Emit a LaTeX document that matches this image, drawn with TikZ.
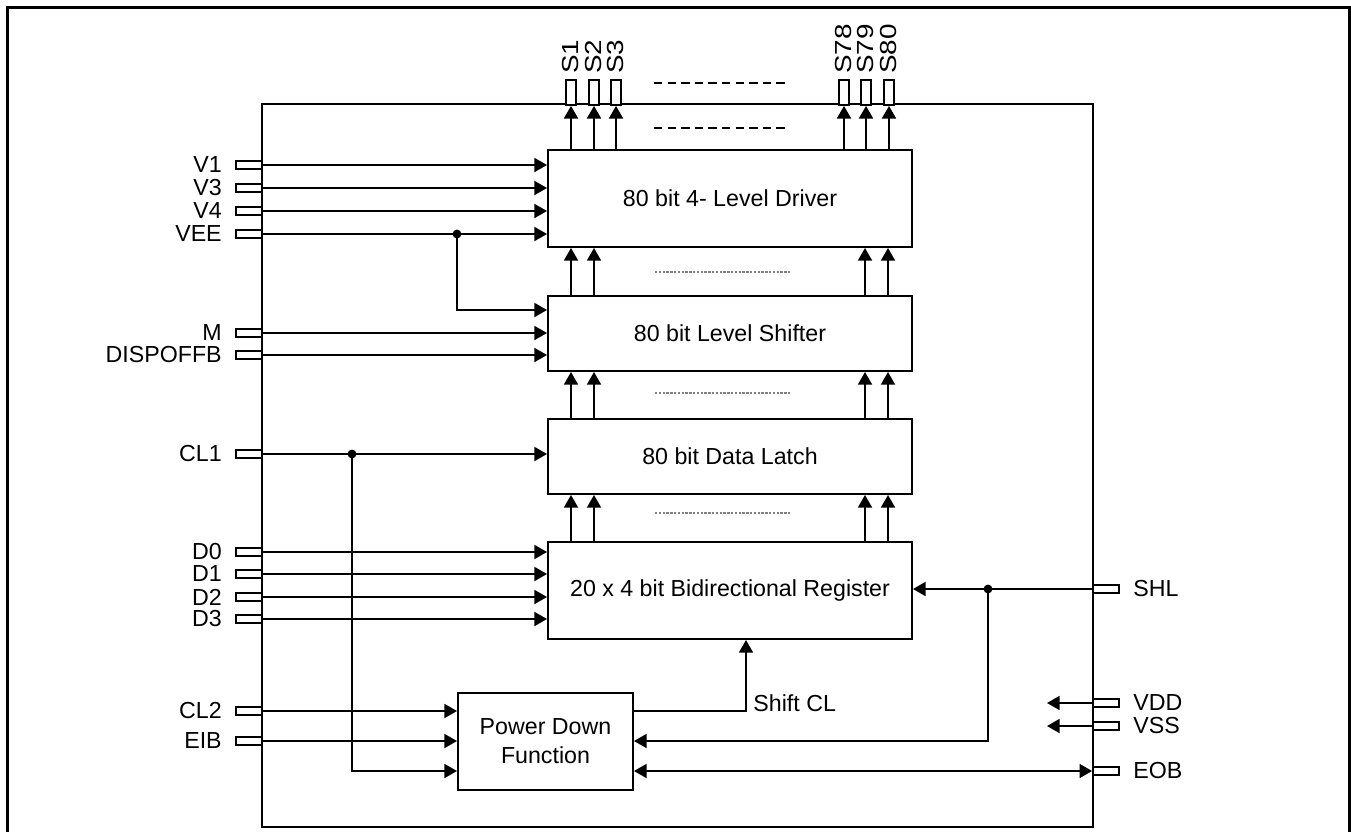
\documentclass[tikz,border=0pt]{standalone}
\usepackage{fontspec}
\setmainfont{Liberation Sans}
\usetikzlibrary{arrows.meta,positioning}
\newcommand{\sigfont}{\fontsize{11.6}{14.5}\selectfont}
\tikzset{
  block/.style={rectangle, draw=black, line width=1pt, fill=white, align=center,
    inner sep=0pt, minimum width=182pt, font=\sigfont},
  pinL/.style={rectangle, draw=black, line width=0.9pt, fill=white, inner sep=0pt,
    minimum width=13pt, minimum height=4.2pt},
  pinT/.style={rectangle, draw=black, line width=0.9pt, fill=white, inner sep=0pt,
    minimum width=5pt, minimum height=12.5pt},
  pintxt/.style={font=\sigfont, inner sep=0pt},
  flow/.style={-{Triangle[length=6.3pt,width=7pt]}, line width=0.9pt},
  flowboth/.style={{Triangle[length=6.3pt,width=7pt]}-{Triangle[length=6.3pt,width=7pt]}, line width=0.9pt},
  gapline/.style={dash pattern=on 4.2pt off 2.6pt, line width=0.9pt},
  fine/.style={draw=black!50, dash pattern=on 1.2pt off 0.7pt, line width=0.6pt},
}
\begin{document}
\begin{tikzpicture}[x=0.5pt, y=-0.5pt, font=\sigfont, node distance=23pt]
  \useasboundingbox (0,0) rectangle (1351,831);
  % frame and chip outline
  \draw[line width=1.5pt] (7,836) -- (7,7) -- (1349.5,7) -- (1349.5,836);
  \node[draw, line width=1pt, inner sep=0pt, minimum width=415.5pt, minimum height=361.5pt] (chip) at (677.5,465.5) {};

  % blocks
  \node[block, minimum height=48.5pt] (drv) at (730,198.5) {80 bit 4- Level Driver};
  \node[block, minimum height=37.5pt, below=23.5pt of drv] (lsh) {80 bit Level Shifter};
  \node[block, minimum height=37.5pt, below=of lsh] (lat) {80 bit Data Latch};
  \node[block, minimum height=48.5pt, below=of lat] (reg) {20 x 4 bit Bidirectional Register};
  \node[block, minimum width=87.5pt, minimum height=48.5pt] (pdf) at (545.5,741) {Power Down\\Function};

  % stacked bit lines
  \foreach \dx in {12pt,23.5pt,159pt,170.5pt} {
    \draw[flow] ([xshift=\dx]lsh.north west) -- ([xshift=\dx]drv.south west);
    \draw[flow] ([xshift=\dx]lat.north west) -- ([xshift=\dx]lsh.south west);
    \draw[flow] ([xshift=\dx]reg.north west) -- ([xshift=\dx]lat.south west);
  }
  \draw[fine] (655,272) -- (791,272);
  \draw[fine] (655,393) -- (791,393);
  \draw[fine] (655,513) -- (791,513);

  % segment outputs
  \node[pinT] (s1) at (571,92.5) {};
  \node[pinT] (s2) at (594,92.5) {};
  \node[pinT] (s3) at (616,92.5) {};
  \node[pinT] (s78) at (844,92.5) {};
  \node[pinT] (s79) at (866,92.5) {};
  \node[pinT] (s80) at (889,92.5) {};
  \node[pintxt, rotate=90, anchor=west] (s1txt) at ([yshift=2.5pt]s1.north) {\scalebox{1.2}[1]{S1}};
  \node[pintxt, rotate=90, anchor=west] (s2txt) at ([yshift=2.5pt]s2.north) {\scalebox{1.2}[1]{S2}};
  \node[pintxt, rotate=90, anchor=west] (s3txt) at ([yshift=2.5pt]s3.north) {\scalebox{1.2}[1]{S3}};
  \node[pintxt, rotate=90, anchor=west] (s78txt) at ([yshift=2.5pt]s78.north) {\scalebox{1.2}[1]{S78}};
  \node[pintxt, rotate=90, anchor=west] (s79txt) at ([yshift=2.5pt]s79.north) {\scalebox{1.2}[1]{S79}};
  \node[pintxt, rotate=90, anchor=west] (s80txt) at ([yshift=2.5pt]s80.north) {\scalebox{1.2}[1]{S80}};
  \draw[flow] (drv.north -| s1) -- (s1.south);
  \draw[flow] (drv.north -| s2) -- (s2.south);
  \draw[flow] (drv.north -| s3) -- (s3.south);
  \draw[flow] (drv.north -| s78) -- (s78.south);
  \draw[flow] (drv.north -| s79) -- (s79.south);
  \draw[flow] (drv.north -| s80) -- (s80.south);
  \draw[gapline] (654,83) -- (787,83);
  \draw[gapline] (654,128) -- (787,128);

  % left pins
  \node[pinL, label={[pintxt, xshift=-6.5pt]left:V1}] (v1) at (249,165) {};
  \node[pinL, label={[pintxt, xshift=-6.5pt]left:V3}] (v3) at (249,188) {};
  \node[pinL, label={[pintxt, xshift=-6.5pt]left:V4}] (v4) at (249,211) {};
  \node[pinL, label={[pintxt, xshift=-6.5pt]left:VEE}] (vee) at (249,234) {};
  \node[pinL, label={[pintxt, xshift=-6.5pt]left:M}] (m) at (249,333) {};
  \node[pinL, label={[pintxt, xshift=-6.5pt]left:DISPOFFB}] (dispoff) at (249,355) {};
  \node[pinL, label={[pintxt, xshift=-6.5pt]left:CL1}] (cl1) at (249,454) {};
  \node[pinL, label={[pintxt, xshift=-6.5pt]left:D0}] (d0) at (249,552) {};
  \node[pinL, label={[pintxt, xshift=-6.5pt]left:D1}] (d1) at (249,574) {};
  \node[pinL, label={[pintxt, xshift=-6.5pt]left:D2}] (d2) at (249,597) {};
  \node[pinL, label={[pintxt, xshift=-6.5pt]left:D3}] (d3) at (249,619) {};
  \node[pinL, label={[pintxt, xshift=-6.5pt]left:CL2}] (cl2) at (249,711) {};
  \node[pinL, label={[pintxt, xshift=-6.5pt]left:EIB}] (eib) at (249,741) {};

  % right pins
  \node[pinL, label={[pintxt, xshift=6.5pt]right:SHL}] (shl) at (1106,589) {};
  \node[pinL, label={[pintxt, xshift=6.5pt]right:VDD}] (vdd) at (1106,703) {};
  \node[pinL, label={[pintxt, xshift=6.5pt]right:VSS}] (vss) at (1106,726) {};
  \node[pinL, label={[pintxt, xshift=6.5pt]right:EOB}] (eob) at (1106,771) {};

  \coordinate (jvee) at (457,234);
  \coordinate (jcl1) at (352,454);
  \coordinate (jshl) at (988,589);
  \coordinate (shcl) at (746,711);
  \coordinate (vddend) at (1047,703);
  \coordinate (vssend) at (1047,726);

  % driver and shifter inputs
  \draw[flow] (v1.east) -- (v1.east -| drv.west);
  \draw[flow] (v3.east) -- (v3.east -| drv.west);
  \draw[flow] (v4.east) -- (v4.east -| drv.west);
  \draw[flow] (vee.east) -- (vee.east -| drv.west);
  \draw[flow] (jvee) |- ([yshift=11.75pt]lsh.west);
  \fill (jvee) circle (2.2pt);
  \draw[flow] (m.east) -- (m.east -| lsh.west);
  \draw[flow] (dispoff.east) -- (dispoff.east -| lsh.west);

  % latch clock
  \draw[flow] (cl1.east) -- (cl1.east -| lat.west);
  \draw[flow] (jcl1) |- (pdf.west |- eob);
  \fill (jcl1) circle (2.2pt);

  % data inputs
  \draw[flow] (d0.east) -- (d0.east -| reg.west);
  \draw[flow] (d1.east) -- (d1.east -| reg.west);
  \draw[flow] (d2.east) -- (d2.east -| reg.west);
  \draw[flow] (d3.east) -- (d3.east -| reg.west);

  % power down function
  \draw[flow] (cl2.east) -- (cl2.east -| pdf.west);
  \draw[flow] (eib.east) -- (eib.east -| pdf.west);
  \draw[flow] (pdf.east |- shcl) -- (shcl) -- (shcl |- reg.south);
  \node[anchor=base west, inner sep=0pt] (shcllbl) at ([xshift=3.5pt]shcl) {Shift CL};
  \draw[flow] (shl.west) -- (shl.west -| reg.east);
  \draw[flow] (jshl) |- (pdf.east);
  \fill (jshl) circle (2.2pt);
  \draw[flowboth] (pdf.east |- eob) -- (eob.west);
  \draw[flow] (vdd.west) -- (vddend);
  \draw[flow] (vss.west) -- (vssend);
\end{tikzpicture}
\end{document}
